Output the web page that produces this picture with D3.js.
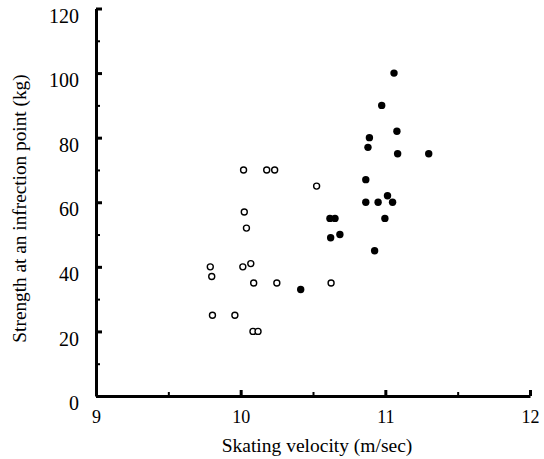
<!DOCTYPE html>
<html>
<head>
<meta charset="utf-8">
<script src="https://cdn.jsdelivr.net/npm/d3@7"></script>
</head>
<body style="margin:0">
<svg id="chart" width="544" height="459"></svg>
<script>
// Group 1 (open circles): skating velocity (m/sec) and strength (kg)
const openVelocity = [10.02, 10.18, 10.235, 10.525, 10.025, 10.04, 9.79, 10.015, 10.07, 9.80, 10.09, 10.25, 10.625, 9.805, 9.96, 10.085, 10.12];
const openStrength = [70, 70, 70, 65, 57, 52, 40, 40, 41, 37, 35, 35, 35, 25, 25, 20, 20];

// Group 2 (filled circles)
const filledVelocity = [11.06, 10.975, 11.08, 10.89, 10.88, 11.085, 11.30, 10.865, 10.865, 10.95, 11.015, 11.05, 10.617, 10.652, 10.997, 10.622, 10.686, 10.926, 10.415];
const filledStrength = [100, 90, 82, 80, 77, 75, 75, 67, 60, 60, 62, 60, 55, 55, 55, 49, 50, 45, 33];

// Axis ticks
const xMajorTicks = [9, 10, 11, 12];
const xMinorTicks = [9.5, 10.5, 11.5];
const yMajorTicks = [0, 20, 40, 60, 80, 100, 120];
const yMinorTicks = [10, 30, 50, 70, 90, 110];

const xTitle = "Skating velocity (m/sec)";
const yTitle = "Strength at an infrection point (kg)";

const svg = d3.select("#chart");

const x = d3.scaleLinear().domain([9, 12]).range([96, 530]);
const y = d3.scaleLinear().domain([0, 120]).range([396, 8.5]);

// serif label helper
function serif(sel, size) {
  sel.attr("font-family", "Liberation Serif")
     .style("font-family", '"Liberation Serif"')
     .style("font-size", size + "px")
     .attr("fill", "#000");
}

// minor ticks (pointing into the plot)
svg.append("g")
  .attr("transform", `translate(${x(9)},0)`)
  .call(d3.axisLeft(y).tickValues(yMinorTicks).tickSize(-4).tickFormat(""))
  .call(g => g.select(".domain").remove())
  .call(g => g.selectAll("line").attr("stroke", "#000").attr("stroke-width", 2));

svg.append("g")
  .attr("transform", `translate(0,${y(0)})`)
  .call(d3.axisBottom(x).tickValues(xMinorTicks).tickSize(-4).tickFormat(""))
  .call(g => g.select(".domain").remove())
  .call(g => g.selectAll("line").attr("stroke", "#000").attr("stroke-width", 2));

// major y axis
svg.append("g")
  .attr("transform", `translate(${x(9)},0)`)
  .call(d3.axisLeft(y).tickValues(yMajorTicks).tickSizeInner(-6).tickSizeOuter(0).tickPadding(17).tickFormat(d3.format("d")))
  .attr("font-family", "Liberation Serif")
  .call(g => g.select(".domain").attr("stroke", "#000").attr("stroke-width", 3))
  .call(g => g.selectAll(".tick line").attr("stroke", "#000").attr("stroke-width", 3))
  .call(g => g.selectAll(".tick text").call(serif, 20).attr("dy", "0.68em"));

// major x axis
svg.append("g")
  .attr("transform", `translate(0,${y(0)})`)
  .call(d3.axisBottom(x).tickValues(xMajorTicks).tickSizeInner(-6).tickSizeOuter(0).tickPadding(18).tickFormat(d3.format("d")))
  .attr("font-family", "Liberation Serif")
  .call(g => g.select(".domain").attr("stroke", "#000").attr("stroke-width", 3))
  .call(g => g.selectAll(".tick line").attr("stroke", "#000").attr("stroke-width", 3))
  .call(g => g.selectAll(".tick text").call(serif, 18).attr("dy", "0.5em"));

// axis titles
svg.append("text")
  .attr("x", (x(9) + x(12)) / 2 + 4)
  .attr("y", 452)
  .attr("text-anchor", "middle")
  .call(serif, 19.5)
  .text(xTitle);

svg.append("text")
  .attr("transform", `translate(26,${(75 + 342) / 2}) rotate(-90)`)
  .attr("text-anchor", "middle")
  .call(serif, 19.3)
  .text(yTitle);

// open circles
svg.append("g")
  .selectAll("circle")
  .data(d3.zip(openVelocity, openStrength))
  .join("circle")
  .attr("cx", d => x(d[0]))
  .attr("cy", d => y(d[1]))
  .attr("r", 3)
  .attr("fill", "#fff")
  .attr("stroke", "#000")
  .attr("stroke-width", 1.4);

// filled circles
svg.append("g")
  .selectAll("circle")
  .data(d3.zip(filledVelocity, filledStrength))
  .join("circle")
  .attr("cx", d => x(d[0]))
  .attr("cy", d => y(d[1]))
  .attr("r", 3.7)
  .attr("fill", "#000");
</script>
</body>
</html>
